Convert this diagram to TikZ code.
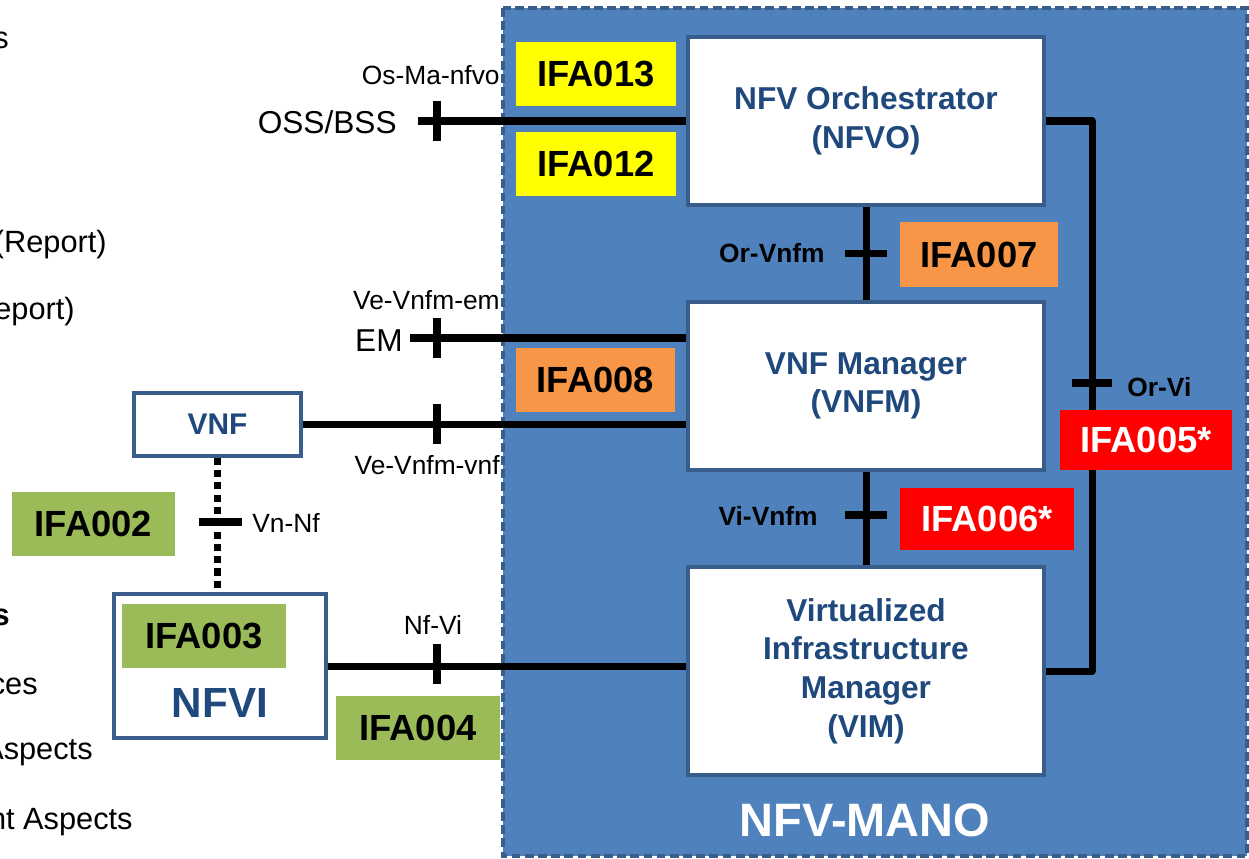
\documentclass[tikz,border=0pt]{standalone}
\usepackage{fontspec}
\setmainfont{Liberation Sans}
\usetikzlibrary{calc}

\definecolor{manoblue}{HTML}{4F81BD}
\definecolor{manoedge}{HTML}{385D8A}
\definecolor{titleblue}{HTML}{1F497D}
\definecolor{ifayellow}{HTML}{FFFF00}
\definecolor{ifaorange}{HTML}{F79646}
\definecolor{ifared}{HTML}{FF0000}
\definecolor{ifagreen}{HTML}{9BBB59}

\begin{document}
\begin{tikzpicture}[x=0.2mm, y=-0.2mm,
mgmt/.style={draw=manoedge, line width=2.3pt, fill=white, text=titleblue, align=center, inner sep=0pt, font=\fontsize{18}{22}\selectfont\bfseries, minimum width=71.2mm},
nfbox/.style={draw=manoedge, line width=2pt, fill=white, text=titleblue, inner sep=0pt},
ifa/.style={inner sep=0pt, minimum width=32mm, minimum height=12.8mm, font=\fontsize{20.7}{24}\selectfont\bfseries},
link/.style={line width=4pt, line join=round},
tick/.style={line width=4.5pt},
iflabel/.style={inner sep=0pt, font=\fontsize{15}{18}\selectfont},
boldlabel/.style={inner sep=0pt, font=\fontsize{15}{18}\selectfont\bfseries},
slide/.style={inner sep=0pt, anchor=east, font=\fontsize{17.5}{21}\selectfont}]
\useasboundingbox (0,0) rectangle (1249,858);
\clip (0,0) rectangle (1249,858);

% management and orchestration frame
\path[fill=manoblue, draw=manoedge, line width=2.3pt, dash pattern=on 5pt off 2.5pt] (503,8) rectangle (1247,856);
\node[font=\fontsize{26.7}{30}\selectfont\bfseries, text=white] (manotitle) at (865,820) {NFV-MANO};

\node[mgmt, minimum height=33.6mm] (nfvo) at (866,121) {NFV Orchestrator\\(NFVO)};
\node[mgmt, minimum height=33.6mm] (vnfm) at (866,386) {VNF Manager\\(VNFM)};
\node[mgmt, minimum height=41.6mm] (vim) at (866,671) {Virtualized\\Infrastructure\\Manager\\(VIM)};

% outside blocks
\node[nfbox, minimum width=33.4mm, minimum height=12.6mm, font=\fontsize{17}{20}\selectfont\bfseries] (vnf) at (217.5,424.5) {VNF};
\node[nfbox, minimum width=42.4mm, minimum height=28.8mm] (nfvi) at (220,666) {};
\node[text=titleblue, font=\fontsize{24}{28}\selectfont\bfseries] (nfvititle) at (220,703) {NFVI};
\node[anchor=east, inner sep=0pt, font=\fontsize{18}{22}\selectfont] (oss) at (397,122) {OSS/BSS};
\node[anchor=east, inner sep=0pt, font=\fontsize{18}{22}\selectfont] (em) at (403,341) {EM};
\coordinate (ossend) at (418,121);
\coordinate (emend) at (410,338);

% reference points
\draw[link] (ossend) -- (ossend -| nfvo.west);
\draw[link] (emend) -- (emend -| vnfm.west);
\draw[link] (vnf.east) -- (vnf.east -| vnfm.west);
\draw[link] (nfvi.east) -- (nfvi.east -| vim.west);
\draw[link] (nfvo.south) -- (vnfm.north);
\draw[link] (vnfm.south) -- (vim.north);
\draw[link] (nfvo.east) -- ++(46,0) |- (vim.east);
\draw[link, dash pattern=on 4pt off 3pt] (vnf.south) -- (vnf.south |- nfvi.north);

\foreach \y in {121,338,424,664} \draw[tick] (437,\y-20) -- (437,\y+20);
\draw[tick] (845,253.5) -- (887,253.5);
\draw[tick] (845,515) -- (887,515);
\draw[tick] (1072,383) -- (1112,383);
\draw[tick] (199,522) -- (242,522);

% IFA tags
\node[ifa, fill=ifayellow] (ifa013) at (596,74) {IFA013};
\node[ifa, fill=ifayellow] (ifa012) at (596,164) {IFA012};
\node[ifa, fill=ifaorange, minimum width=31.6mm, minimum height=13mm] (ifa007) at (979,254.5) {IFA007};
\node[ifa, fill=ifaorange, minimum width=31.8mm] (ifa008) at (595.5,380) {IFA008};
\node[ifa, fill=ifared, text=white, minimum width=34.4mm, minimum height=12mm] (ifa005) at (1146,440) {IFA005*};
\node[ifa, fill=ifared, text=white, minimum width=34.8mm, minimum height=12.4mm] (ifa006) at (987,519) {IFA006*};
\node[ifa, fill=ifagreen, minimum width=32.6mm] (ifa002) at (93.5,524) {IFA002};
\node[ifa, fill=ifagreen, minimum width=32.8mm] (ifa003) at (204,636) {IFA003};
\node[ifa, fill=ifagreen, minimum width=32.8mm] (ifa004) at (418,728) {IFA004};

\node[iflabel, anchor=east] (osma) at (500,75) {Os-Ma-nfvo};
\node[iflabel, anchor=east] (veem) at (500,300) {Ve-Vnfm-em};
\node[iflabel, anchor=east] (vevnf) at (500,465) {Ve-Vnfm-vnf};
\node[iflabel, anchor=west] (vnnf) at (252,523) {Vn-Nf};
\node[iflabel] (nfvilbl) at (433,625) {Nf-Vi};
\node[boldlabel, anchor=east] (orvnfm) at (825,253) {Or-Vnfm};
\node[boldlabel, anchor=east] (vivnfm) at (818,516) {Vi-Vnfm};
\node[boldlabel, anchor=west] (orvi) at (1127,387) {Or-Vi};

% slide text cut at the left edge
\node[slide] (s1) at (9,40) {s};
\node[slide] (s2) at (107,245) {(Report)};
\node[slide] (s3) at (75,312) {eport)};
\node[slide, font=\fontsize{17.5}{21}\selectfont\bfseries] (s4) at (10,617) {s};
\node[slide] (s5) at (38,686) {ces};
\node[slide] (s6) at (93,752) {Aspects};
\node[slide] (s7) at (133,822) {nt Aspects};
\end{tikzpicture}
\end{document}
